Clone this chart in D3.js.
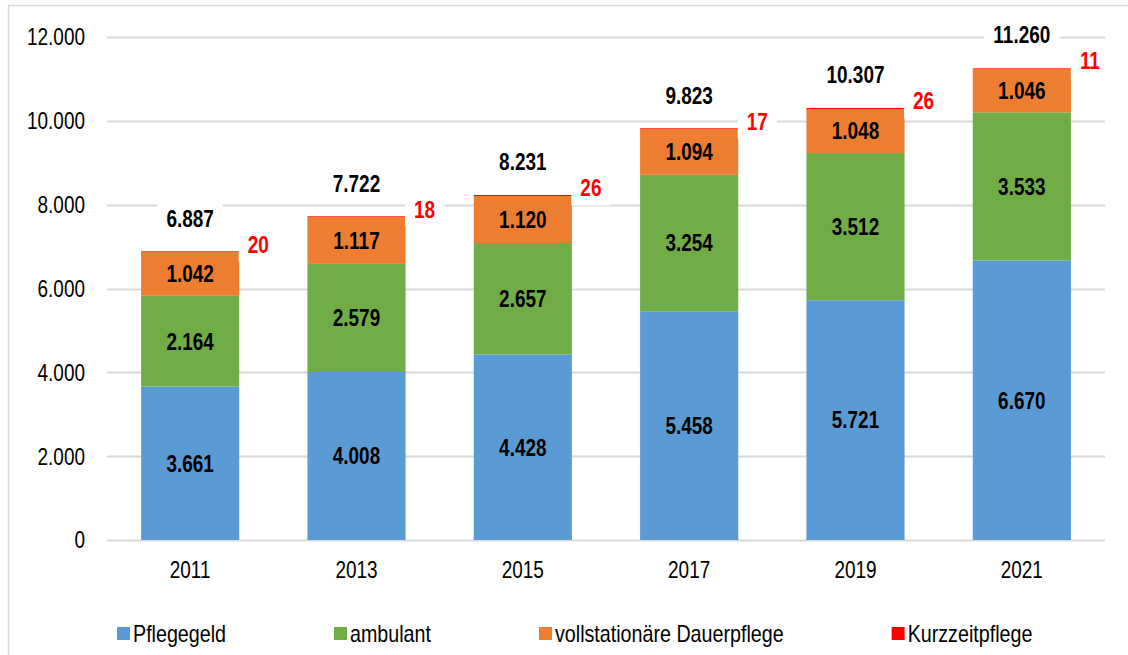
<!DOCTYPE html>
<html>
<head>
<meta charset="utf-8">
<script src="https://cdn.jsdelivr.net/npm/d3@7"></script>
<style>
  body { margin: 0; background: #fff; }
  text { font-family: "Liberation Sans", Arial, sans-serif; }
</style>
</head>
<body>
<script>
// Jahre und Werte je Leistungsart
var years = ["2011", "2013", "2015", "2017", "2019", "2021"];
var pflegegeld = [3661, 4008, 4428, 5458, 5721, 6670];
var ambulant = [2164, 2579, 2657, 3254, 3512, 3533];
var dauerpflege = [1042, 1117, 1120, 1094, 1048, 1046];
var kurzzeit = [20, 18, 26, 17, 26, 11];
var seriesNames = ["Pflegegeld", "ambulant", "vollstationäre Dauerpflege", "Kurzzeitpflege"];
var colors = ["#5B9BD5", "#70AD47", "#ED7D31", "#FF0000"];
var yTicks = [0, 2000, 4000, 6000, 8000, 10000, 12000];

var width = 1128, height = 655;
var fs = 24;
var fmt = function(v){ return d3.format(",")(v).replace(/,/g, "."); };

// Schmalschrift nachbilden (Arial Narrow)
function narrow(sel, k){
  k = k || 0.79;
  sel.each(function(){
    var w = this.getComputedTextLength();
    d3.select(this).attr("textLength", w * k).attr("lengthAdjust", "spacingAndGlyphs");
  });
}

var rows = years.map(function(y, i){
  return { year: y, s0: pflegegeld[i], s1: ambulant[i], s2: dauerpflege[i], s3: kurzzeit[i] };
});
var keys = ["s0", "s1", "s2", "s3"];
var stacked = d3.stack().keys(keys)(rows);

var svg = d3.select("body").append("svg")
  .attr("width", width)
  .attr("height", height);

// Rahmen (nur links und oben sichtbar)
svg.append("rect")
  .attr("x", 8.5).attr("y", 5.5)
  .attr("width", 1140).attr("height", 670)
  .attr("fill", "#fff")
  .attr("stroke", "#D9D9D9")
  .attr("stroke-width", 1.5);

var x = d3.scaleBand().domain(years).range([107, 1105]).paddingInner(0.41).paddingOuter(0.205);
var y = d3.scaleLinear().domain([0, 12000]).range([540, 37]);

// Gitternetzlinien
svg.append("g").selectAll("line").data(yTicks).join("line")
  .attr("x1", 107).attr("x2", 1105)
  .attr("y1", function(d){ return Math.round(y(d)) + 0.5; })
  .attr("y2", function(d){ return Math.round(y(d)) + 0.5; })
  .attr("stroke", "#D9D9D9")
  .attr("stroke-width", 2);

// Y-Achse
svg.append("g").selectAll("text").data(yTicks).join("text")
  .attr("x", 85)
  .attr("y", function(d){ return y(d); })
  .attr("dy", "0.35em")
  .attr("text-anchor", "end")
  .attr("font-size", fs)
  .attr("fill", "#000")
  .text(fmt)
  .call(narrow);

// Balken
svg.append("g").selectAll("g").data(stacked).join("g")
  .attr("fill", function(d, i){ return colors[i]; })
  .selectAll("rect").data(function(d){ return d; }).join("rect")
  .attr("x", function(d){ return x(d.data.year); })
  .attr("width", x.bandwidth())
  .attr("y", function(d){ return y(d[1]); })
  .attr("height", function(d){ return y(d[0]) - y(d[1]); });

// Werte in den Segmenten
stacked.slice(0, 3).forEach(function(s){
  svg.append("g").selectAll("text").data(s).join("text")
    .attr("x", function(d){ return x(d.data.year) + x.bandwidth() / 2; })
    .attr("y", function(d){ return (y(d[0]) + y(d[1])) / 2; })
    .attr("dy", "0.35em")
    .attr("text-anchor", "middle")
    .attr("font-size", fs)
    .attr("font-weight", "bold")
    .attr("fill", "#000")
    .text(function(d){ return fmt(d[1] - d[0]); })
    .call(narrow);
});

// Beschriftung mit weissem Hintergrund
function boxLabel(g, cx, cy, txt, color){
  var t = g.append("text")
    .attr("x", cx).attr("y", cy).attr("dy", "0.35em")
    .attr("text-anchor", "middle")
    .attr("font-size", fs)
    .attr("font-weight", "bold")
    .attr("fill", color)
    .text(txt)
    .call(narrow);
  var bb = t.node().getBBox();
  g.insert("rect", function(){ return t.node(); })
    .attr("x", bb.x - 9).attr("y", bb.y - 4)
    .attr("width", bb.width + 18).attr("height", bb.height + 8)
    .attr("fill", "#fff");
}

var topSeries = stacked[3];
var lab = svg.append("g");
topSeries.forEach(function(d){
  boxLabel(lab.append("g"), x(d.data.year) + x.bandwidth() / 2, y(d[1]) - 33, fmt(d[1]), "#000");
  boxLabel(lab.append("g"), x(d.data.year) + x.bandwidth() + 19, y(d[1]) - 7, fmt(d[1] - d[0]), "#FF0000");
});

// X-Achse
svg.append("g").selectAll("text").data(years).join("text")
  .attr("x", function(d){ return x(d) + x.bandwidth() / 2; })
  .attr("y", 570)
  .attr("dy", "0.35em")
  .attr("text-anchor", "middle")
  .attr("font-size", fs)
  .attr("fill", "#000")
  .text(function(d){ return d; })
  .call(narrow);

// Legende
var leg = svg.append("g");
var lx = 117;
seriesNames.forEach(function(n, i){
  leg.append("rect")
    .attr("x", lx).attr("y", 627)
    .attr("width", 13).attr("height", 13)
    .attr("fill", colors[i]);
  var t = leg.append("text")
    .attr("x", lx + 16).attr("y", 633.5)
    .attr("dy", "0.35em")
    .attr("font-size", fs)
    .attr("fill", "#000")
    .text(n);
  var w = t.node().getComputedTextLength() * 0.82;
  t.attr("textLength", w).attr("lengthAdjust", "spacingAndGlyphs");
  lx += 16 + w + 108;
});
</script>
</body>
</html>
